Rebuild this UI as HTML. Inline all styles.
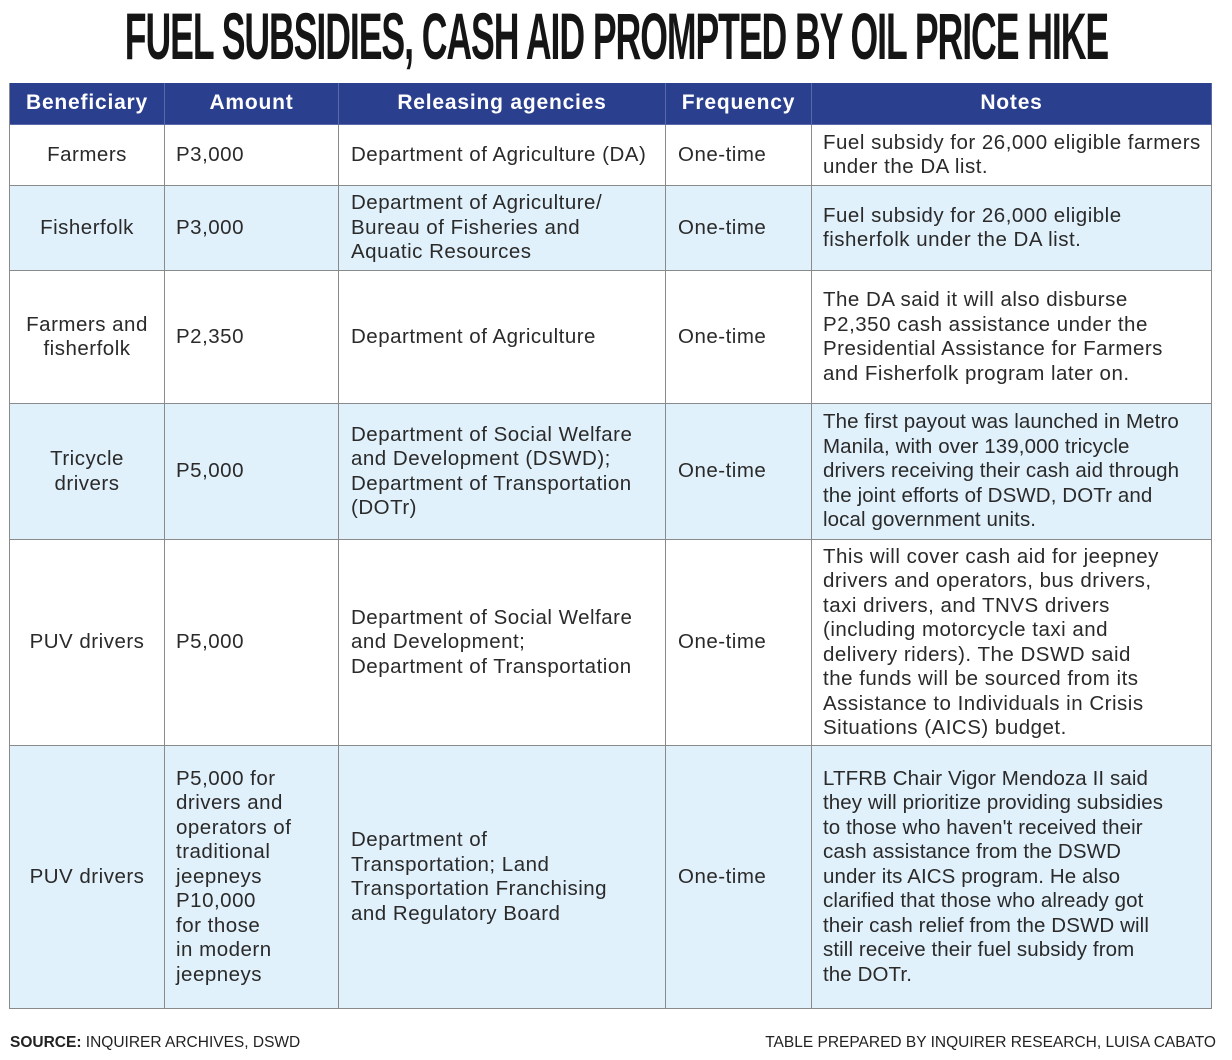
<!DOCTYPE html>
<html><head><meta charset="utf-8"><style>
body{margin:0;width:1232px;height:1060px;background:#fff;position:relative;overflow:hidden;font-family:"Liberation Sans",sans-serif;color:#2a2a2a}
.t{position:absolute;left:0;width:1232px;top:0px;display:flex;justify-content:center;font-weight:bold;font-size:66px;letter-spacing:-2px;line-height:72px;color:#151515}
.t span{display:inline-block;transform:scaleX(0.54);transform-origin:center;white-space:nowrap;flex:none}
.c{position:absolute;box-sizing:border-box;display:flex;align-items:center;font-size:20.5px;letter-spacing:0.5px;line-height:24.5px;padding:0 8px;border-right:1.5px solid #8a8a8a;border-bottom:1.5px solid #8a8a8a;white-space:nowrap}
.h{background:#2b3f8f;color:#fff;font-weight:bold;justify-content:center;font-size:21px;letter-spacing:0.8px;border-color:#5a6aa8}
.ctr{justify-content:center;text-align:center}
.b{background:#e1f1fb}
.f{position:absolute;top:1034px;font-size:15.5px;color:#222;letter-spacing:0px}
</style></head><body>
<div class="t"><span>FUEL SUBSIDIES, CASH AID PROMPTED BY OIL PRICE HIKE</span></div>
<div style="position:absolute;left:9px;top:83px;width:1203px;height:926px;border-left:1.5px solid #8a8a8a"></div>

<div class="c h" style="left:10px;top:83px;width:155px;height:42px">Beneficiary</div>
<div class="c h" style="left:165px;top:83px;width:174px;height:42px">Amount</div>
<div class="c h" style="left:339px;top:83px;width:327px;height:42px">Releasing agencies</div>
<div class="c h" style="left:666px;top:83px;width:146px;height:42px">Frequency</div>
<div class="c h" style="left:812px;top:83px;width:400px;height:42px">Notes</div>

<div class="c ctr" style="left:10px;top:125px;width:155px;height:61px">Farmers</div>
<div class="c" style="left:165px;top:125px;width:174px;height:61px;padding-left:11px">P3,000</div>
<div class="c" style="left:339px;top:125px;width:327px;height:61px;padding-left:12px">Department of Agriculture (DA)</div>
<div class="c" style="left:666px;top:125px;width:146px;height:61px;padding-left:12px">One-time</div>
<div class="c" style="left:812px;top:125px;width:400px;height:61px;padding-left:11px">Fuel subsidy for 26,000 eligible farmers<br>under the DA list.</div>

<div class="c ctr b" style="left:10px;top:186px;width:155px;height:85px">Fisherfolk</div>
<div class="c b" style="left:165px;top:186px;width:174px;height:85px;padding-left:11px">P3,000</div>
<div class="c b" style="left:339px;top:186px;width:327px;height:85px;padding-left:12px">Department of Agriculture/<br>Bureau of Fisheries and<br>Aquatic Resources</div>
<div class="c b" style="left:666px;top:186px;width:146px;height:85px;padding-left:12px">One-time</div>
<div class="c b" style="left:812px;top:186px;width:400px;height:85px;padding-left:11px">Fuel subsidy for 26,000 eligible<br>fisherfolk under the DA list.</div>

<div class="c ctr" style="left:10px;top:271px;width:155px;height:133px">Farmers and<br>fisherfolk</div>
<div class="c" style="left:165px;top:271px;width:174px;height:133px;padding-left:11px">P2,350</div>
<div class="c" style="left:339px;top:271px;width:327px;height:133px;padding-left:12px">Department of Agriculture</div>
<div class="c" style="left:666px;top:271px;width:146px;height:133px;padding-left:12px">One-time</div>
<div class="c" style="left:812px;top:271px;width:400px;height:133px;padding-left:11px">The DA said it will also disburse<br>P2,350 cash assistance under the<br>Presidential Assistance for Farmers<br>and Fisherfolk program later on.</div>

<div class="c ctr b" style="left:10px;top:404px;width:155px;height:136px">Tricycle<br>drivers</div>
<div class="c b" style="left:165px;top:404px;width:174px;height:136px;padding-left:11px">P5,000</div>
<div class="c b" style="left:339px;top:404px;width:327px;height:136px;padding-left:12px">Department of Social Welfare<br>and Development (DSWD);<br>Department of Transportation<br>(DOTr)</div>
<div class="c b" style="left:666px;top:404px;width:146px;height:136px;padding-left:12px">One-time</div>
<div class="c b" style="left:812px;top:404px;width:400px;height:136px;padding-left:11px;letter-spacing:0.1px">The first payout was launched in Metro<br>Manila, with over 139,000 tricycle<br>drivers receiving their cash aid through<br>the joint efforts of DSWD, DOTr and<br>local government units.</div>

<div class="c ctr" style="left:10px;top:540px;width:155px;height:206px">PUV drivers</div>
<div class="c" style="left:165px;top:540px;width:174px;height:206px;padding-left:11px">P5,000</div>
<div class="c" style="left:339px;top:540px;width:327px;height:206px;padding-left:12px">Department of Social Welfare<br>and Development;<br>Department of Transportation</div>
<div class="c" style="left:666px;top:540px;width:146px;height:206px;padding-left:12px">One-time</div>
<div class="c" style="left:812px;top:540px;width:400px;height:206px;padding-left:11px">This will cover cash aid for jeepney<br>drivers and operators, bus drivers,<br>taxi drivers, and TNVS drivers<br>(including motorcycle taxi and<br>delivery riders). The DSWD said<br>the funds will be sourced from its<br>Assistance to Individuals in Crisis<br>Situations (AICS) budget.</div>

<div class="c ctr b" style="left:10px;top:746px;width:155px;height:263px">PUV drivers</div>
<div class="c b" style="left:165px;top:746px;width:174px;height:263px;padding-left:11px">P5,000 for<br>drivers and<br>operators of<br>traditional<br>jeepneys<br>P10,000<br>for those<br>in modern<br>jeepneys</div>
<div class="c b" style="left:339px;top:746px;width:327px;height:263px;padding-left:12px">Department of<br>Transportation; Land<br>Transportation Franchising<br>and Regulatory Board</div>
<div class="c b" style="left:666px;top:746px;width:146px;height:263px;padding-left:12px">One-time</div>
<div class="c b" style="left:812px;top:746px;width:400px;height:263px;padding-left:11px;letter-spacing:0.1px">LTFRB Chair Vigor Mendoza II said<br>they will prioritize providing subsidies<br>to those who haven't received their<br>cash assistance from the DSWD<br>under its AICS program. He also<br>clarified that those who already got<br>their cash relief from the DSWD will<br>still receive their fuel subsidy from<br>the DOTr.</div>

<div class="f" style="left:10px"><b>SOURCE:</b> INQUIRER ARCHIVES, DSWD</div>
<div class="f" style="right:16px">TABLE PREPARED BY INQUIRER RESEARCH, LUISA CABATO</div>
</body></html>
